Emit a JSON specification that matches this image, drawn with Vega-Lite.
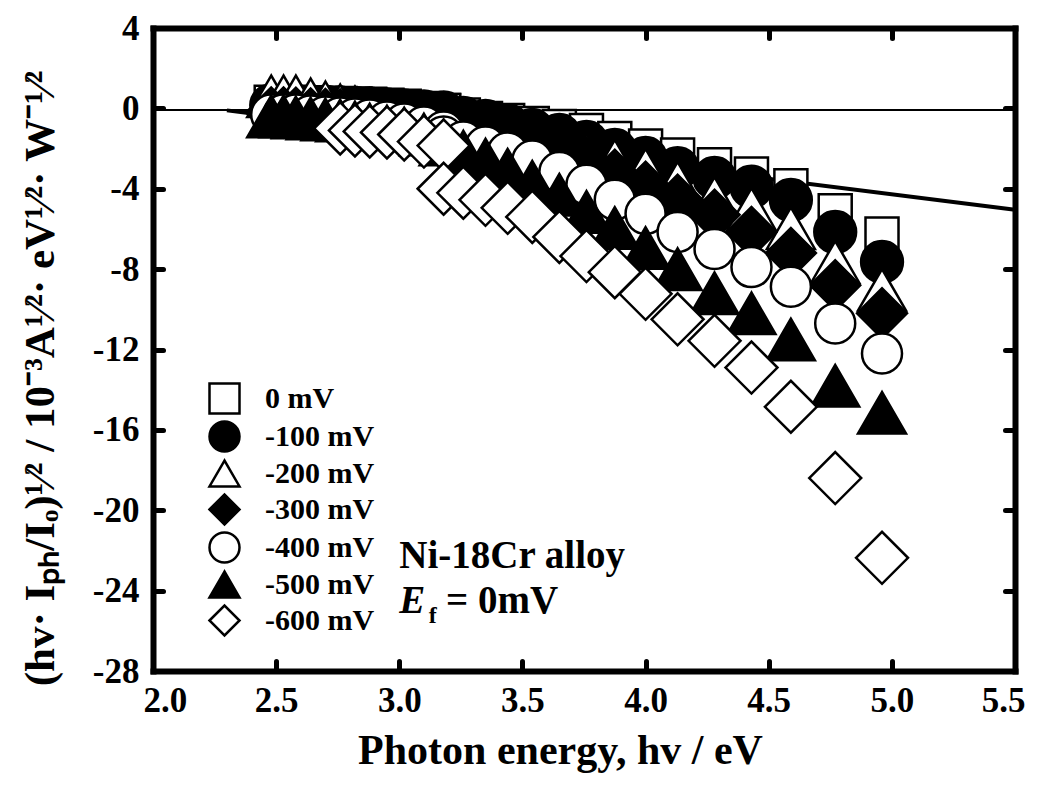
{
  "$schema": "https://vega.github.io/schema/vega-lite/v6.json",
  "width": 862,
  "height": 643,
  "autosize": {"type": "none"},
  "padding": {"left": 153, "top": 28, "right": 31, "bottom": 114},
  "background": "white",
  "config": {
    "view": {"stroke": null},
    "font": "Liberation Serif",
    "axis": {
      "grid": false,
      "domainColor": "black",
      "domainWidth": 6,
      "domainCap": "square",
      "tickColor": "black",
      "tickWidth": 5,
      "tickSize": -10,
      "tickCap": "round",
      "labelFont": "Liberation Serif",
      "labelFontWeight": "bold",
      "labelFontSize": 35,
      "labelColor": "black",
      "titleFont": "Liberation Serif",
      "titleFontWeight": "bold",
      "titleColor": "black"
    }
  },
  "datasets": {
    "pts": [
      {"hv": 2.48, "v": 0.3, "s": "0 mV"}, {"hv": 2.53, "v": 0.3, "s": "0 mV"}, {"hv": 2.58, "v": 0.3, "s": "0 mV"}, {"hv": 2.64, "v": 0.28, "s": "0 mV"}, {"hv": 2.70, "v": 0.26, "s": "0 mV"}, {"hv": 2.76, "v": 0.24, "s": "0 mV"}, {"hv": 2.82, "v": 0.22, "s": "0 mV"}, {"hv": 2.88, "v": 0.2, "s": "0 mV"}, {"hv": 2.95, "v": 0.15, "s": "0 mV"}, {"hv": 3.02, "v": 0.1, "s": "0 mV"}, {"hv": 3.10, "v": 0.0, "s": "0 mV"}, {"hv": 3.18, "v": -0.1, "s": "0 mV"},
      {"hv": 3.18, "v": -0.1, "s": "0 mV"}, {"hv": 3.26, "v": -0.33, "s": "0 mV"}, {"hv": 3.35, "v": -0.5, "s": "0 mV"}, {"hv": 3.44, "v": -0.6, "s": "0 mV"}, {"hv": 3.54, "v": -0.75, "s": "0 mV"}, {"hv": 3.65, "v": -0.9, "s": "0 mV"}, {"hv": 3.76, "v": -1.1, "s": "0 mV"}, {"hv": 3.875, "v": -1.5, "s": "0 mV"}, {"hv": 4.00, "v": -1.87, "s": "0 mV"}, {"hv": 4.13, "v": -2.32, "s": "0 mV"}, {"hv": 4.28, "v": -2.8, "s": "0 mV"}, {"hv": 4.43, "v": -3.27, "s": "0 mV"}, {"hv": 4.59, "v": -3.85, "s": "0 mV"}, {"hv": 4.77, "v": -5.1, "s": "0 mV"}, {"hv": 4.96, "v": -6.25, "s": "0 mV"},

      {"hv": 2.48, "v": 0.15, "s": "-100 mV"}, {"hv": 2.53, "v": 0.15, "s": "-100 mV"}, {"hv": 2.58, "v": 0.12, "s": "-100 mV"}, {"hv": 2.64, "v": 0.1, "s": "-100 mV"}, {"hv": 2.70, "v": 0.08, "s": "-100 mV"}, {"hv": 2.76, "v": 0.05, "s": "-100 mV"}, {"hv": 2.82, "v": 0.02, "s": "-100 mV"}, {"hv": 2.88, "v": 0.0, "s": "-100 mV"}, {"hv": 2.95, "v": -0.05, "s": "-100 mV"}, {"hv": 3.02, "v": -0.1, "s": "-100 mV"}, {"hv": 3.10, "v": -0.15, "s": "-100 mV"}, {"hv": 3.18, "v": -0.2, "s": "-100 mV"},
      {"hv": 3.18, "v": -0.35, "s": "-100 mV"}, {"hv": 3.26, "v": -0.48, "s": "-100 mV"}, {"hv": 3.35, "v": -0.63, "s": "-100 mV"}, {"hv": 3.44, "v": -0.83, "s": "-100 mV"}, {"hv": 3.54, "v": -1.07, "s": "-100 mV"}, {"hv": 3.65, "v": -1.32, "s": "-100 mV"}, {"hv": 3.76, "v": -1.67, "s": "-100 mV"}, {"hv": 3.875, "v": -2.07, "s": "-100 mV"}, {"hv": 4.00, "v": -2.47, "s": "-100 mV"}, {"hv": 4.13, "v": -2.97, "s": "-100 mV"}, {"hv": 4.28, "v": -3.46, "s": "-100 mV"}, {"hv": 4.43, "v": -3.9, "s": "-100 mV"}, {"hv": 4.59, "v": -4.56, "s": "-100 mV"}, {"hv": 4.77, "v": -6.15, "s": "-100 mV"}, {"hv": 4.96, "v": -7.64, "s": "-100 mV"},

      {"hv": 2.48, "v": 0.6, "s": "-200 mV"}, {"hv": 2.53, "v": 0.6, "s": "-200 mV"}, {"hv": 2.58, "v": 0.6, "s": "-200 mV"}, {"hv": 2.64, "v": 0.45, "s": "-200 mV"}, {"hv": 2.70, "v": 0.3, "s": "-200 mV"}, {"hv": 2.76, "v": 0.15, "s": "-200 mV"}, {"hv": 2.82, "v": 0.05, "s": "-200 mV"}, {"hv": 2.88, "v": -0.05, "s": "-200 mV"}, {"hv": 2.95, "v": -0.1, "s": "-200 mV"}, {"hv": 3.02, "v": -0.2, "s": "-200 mV"}, {"hv": 3.10, "v": -0.3, "s": "-200 mV"}, {"hv": 3.18, "v": -0.4, "s": "-200 mV"},
      {"hv": 3.18, "v": -0.75, "s": "-200 mV"}, {"hv": 3.26, "v": -0.9, "s": "-200 mV"}, {"hv": 3.35, "v": -1.05, "s": "-200 mV"}, {"hv": 3.44, "v": -1.2, "s": "-200 mV"}, {"hv": 3.54, "v": -1.5, "s": "-200 mV"}, {"hv": 3.65, "v": -1.9, "s": "-200 mV"}, {"hv": 3.76, "v": -2.3, "s": "-200 mV"}, {"hv": 3.875, "v": -2.6, "s": "-200 mV"}, {"hv": 4.00, "v": -3.05, "s": "-200 mV"}, {"hv": 4.13, "v": -3.7, "s": "-200 mV"}, {"hv": 4.28, "v": -4.45, "s": "-200 mV"}, {"hv": 4.43, "v": -5.0, "s": "-200 mV"}, {"hv": 4.59, "v": -5.96, "s": "-200 mV"}, {"hv": 4.77, "v": -7.64, "s": "-200 mV"}, {"hv": 4.96, "v": -9.03, "s": "-200 mV"},

      {"hv": 2.48, "v": -0.2, "s": "-300 mV"}, {"hv": 2.53, "v": -0.2, "s": "-300 mV"}, {"hv": 2.58, "v": -0.22, "s": "-300 mV"}, {"hv": 2.64, "v": -0.25, "s": "-300 mV"}, {"hv": 2.70, "v": -0.28, "s": "-300 mV"}, {"hv": 2.76, "v": -0.3, "s": "-300 mV"}, {"hv": 2.82, "v": -0.33, "s": "-300 mV"}, {"hv": 2.88, "v": -0.36, "s": "-300 mV"}, {"hv": 2.95, "v": -0.4, "s": "-300 mV"}, {"hv": 3.02, "v": -0.45, "s": "-300 mV"}, {"hv": 3.10, "v": -0.5, "s": "-300 mV"}, {"hv": 3.18, "v": -0.55, "s": "-300 mV"},
      {"hv": 3.18, "v": -0.68, "s": "-300 mV"}, {"hv": 3.26, "v": -0.92, "s": "-300 mV"}, {"hv": 3.35, "v": -1.17, "s": "-300 mV"}, {"hv": 3.44, "v": -1.47, "s": "-300 mV"}, {"hv": 3.54, "v": -1.8, "s": "-300 mV"}, {"hv": 3.65, "v": -2.2, "s": "-300 mV"}, {"hv": 3.76, "v": -2.7, "s": "-300 mV"}, {"hv": 3.875, "v": -3.3, "s": "-300 mV"}, {"hv": 4.00, "v": -3.9, "s": "-300 mV"}, {"hv": 4.13, "v": -4.55, "s": "-300 mV"}, {"hv": 4.28, "v": -5.3, "s": "-300 mV"}, {"hv": 4.43, "v": -6.15, "s": "-300 mV"}, {"hv": 4.59, "v": -7.2, "s": "-300 mV"}, {"hv": 4.77, "v": -8.8, "s": "-300 mV"}, {"hv": 4.96, "v": -10.2, "s": "-300 mV"},

      {"hv": 2.48, "v": -0.3, "s": "-400 mV"}, {"hv": 2.53, "v": -0.3, "s": "-400 mV"}, {"hv": 2.58, "v": -0.3, "s": "-400 mV"}, {"hv": 2.64, "v": -0.35, "s": "-400 mV"}, {"hv": 2.70, "v": -0.4, "s": "-400 mV"}, {"hv": 2.76, "v": -0.45, "s": "-400 mV"}, {"hv": 2.82, "v": -0.5, "s": "-400 mV"}, {"hv": 2.88, "v": -0.55, "s": "-400 mV"}, {"hv": 2.95, "v": -0.65, "s": "-400 mV"}, {"hv": 3.02, "v": -0.75, "s": "-400 mV"}, {"hv": 3.10, "v": -0.9, "s": "-400 mV"}, {"hv": 3.18, "v": -1.15, "s": "-400 mV"},
      {"hv": 3.18, "v": -1.4, "s": "-400 mV"}, {"hv": 3.26, "v": -1.65, "s": "-400 mV"}, {"hv": 3.35, "v": -1.9, "s": "-400 mV"}, {"hv": 3.44, "v": -2.2, "s": "-400 mV"}, {"hv": 3.54, "v": -2.6, "s": "-400 mV"}, {"hv": 3.65, "v": -3.17, "s": "-400 mV"}, {"hv": 3.76, "v": -3.8, "s": "-400 mV"}, {"hv": 3.875, "v": -4.55, "s": "-400 mV"}, {"hv": 4.00, "v": -5.25, "s": "-400 mV"}, {"hv": 4.13, "v": -6.15, "s": "-400 mV"}, {"hv": 4.28, "v": -7.0, "s": "-400 mV"}, {"hv": 4.43, "v": -7.9, "s": "-400 mV"}, {"hv": 4.59, "v": -8.88, "s": "-400 mV"}, {"hv": 4.77, "v": -10.7, "s": "-400 mV"}, {"hv": 4.96, "v": -12.2, "s": "-400 mV"},

      {"hv": 2.48, "v": -0.4, "s": "-500 mV"}, {"hv": 2.53, "v": -0.4, "s": "-500 mV"}, {"hv": 2.58, "v": -0.45, "s": "-500 mV"}, {"hv": 2.64, "v": -0.5, "s": "-500 mV"}, {"hv": 2.70, "v": -0.55, "s": "-500 mV"}, {"hv": 2.76, "v": -0.6, "s": "-500 mV"}, {"hv": 2.82, "v": -0.7, "s": "-500 mV"}, {"hv": 2.88, "v": -0.8, "s": "-500 mV"}, {"hv": 2.95, "v": -0.9, "s": "-500 mV"}, {"hv": 3.02, "v": -1.0, "s": "-500 mV"}, {"hv": 3.10, "v": -1.3, "s": "-500 mV"}, {"hv": 3.18, "v": -1.6, "s": "-500 mV"},
      {"hv": 3.18, "v": -1.8, "s": "-500 mV"}, {"hv": 3.26, "v": -2.15, "s": "-500 mV"}, {"hv": 3.35, "v": -2.55, "s": "-500 mV"}, {"hv": 3.44, "v": -3.05, "s": "-500 mV"}, {"hv": 3.54, "v": -3.65, "s": "-500 mV"}, {"hv": 3.65, "v": -4.3, "s": "-500 mV"}, {"hv": 3.76, "v": -5.15, "s": "-500 mV"}, {"hv": 3.875, "v": -5.95, "s": "-500 mV"}, {"hv": 4.00, "v": -6.95, "s": "-500 mV"}, {"hv": 4.13, "v": -8.0, "s": "-500 mV"}, {"hv": 4.28, "v": -9.2, "s": "-500 mV"}, {"hv": 4.43, "v": -10.2, "s": "-500 mV"}, {"hv": 4.59, "v": -11.5, "s": "-500 mV"}, {"hv": 4.77, "v": -13.8, "s": "-500 mV"}, {"hv": 4.96, "v": -15.15, "s": "-500 mV"},

      {"hv": 2.76, "v": -1.0, "s": "-600 mV"}, {"hv": 2.82, "v": -1.1, "s": "-600 mV"}, {"hv": 2.88, "v": -1.15, "s": "-600 mV"}, {"hv": 2.95, "v": -1.2, "s": "-600 mV"}, {"hv": 3.02, "v": -1.3, "s": "-600 mV"}, {"hv": 3.10, "v": -1.65, "s": "-600 mV"}, {"hv": 3.18, "v": -1.85, "s": "-600 mV"},
      {"hv": 3.18, "v": -4.0, "s": "-600 mV"}, {"hv": 3.26, "v": -4.2, "s": "-600 mV"}, {"hv": 3.35, "v": -4.55, "s": "-600 mV"}, {"hv": 3.44, "v": -4.95, "s": "-600 mV"}, {"hv": 3.54, "v": -5.4, "s": "-600 mV"}, {"hv": 3.65, "v": -6.4, "s": "-600 mV"}, {"hv": 3.76, "v": -7.35, "s": "-600 mV"}, {"hv": 3.875, "v": -8.15, "s": "-600 mV"}, {"hv": 4.00, "v": -9.23, "s": "-600 mV"}, {"hv": 4.13, "v": -10.5, "s": "-600 mV"}, {"hv": 4.28, "v": -11.57, "s": "-600 mV"}, {"hv": 4.43, "v": -12.9, "s": "-600 mV"}, {"hv": 4.59, "v": -14.85, "s": "-600 mV"}, {"hv": 4.77, "v": -18.4, "s": "-600 mV"}, {"hv": 4.96, "v": -22.37, "s": "-600 mV"}
    ],
    "base": [{"hv": 2.0, "v": -0.08}, {"hv": 5.5, "v": -0.08}],
    "fit": [{"hv": 2.3, "v": -0.1}, {"hv": 5.5, "v": -5.05}]
  },
  "resolve": {"axis": {"x": "independent", "y": "independent"}},
  "layer": [
    {
      "data": {"name": "base"},
      "mark": {"type": "line", "color": "black", "strokeWidth": 2},
      "encoding": {
        "x": {"field": "hv", "type": "quantitative", "scale": {"domain": [2, 5.5], "nice": false, "zero": false},
              "axis": {"orient": "top", "labels": false, "title": null, "values": [2.0, 2.5, 3.0, 3.5, 4.0, 4.5, 5.0, 5.5]}},
        "y": {"field": "v", "type": "quantitative", "scale": {"domain": [-28, 4], "nice": false, "zero": false},
              "axis": {"orient": "right", "labels": false, "title": null, "values": [4, 0, -4, -8, -12, -16, -20, -24, -28]}}
      }
    },
    {
      "data": {"name": "fit"},
      "mark": {"type": "line", "color": "black", "strokeWidth": 4},
      "encoding": {
        "x": {"field": "hv", "type": "quantitative", "axis": null},
        "y": {"field": "v", "type": "quantitative", "axis": null}
      }
    },
    {
      "data": {"name": "pts"},
      "mark": {"type": "point", "filled": true, "strokeWidth": 2.5, "opacity": 1},
      "encoding": {
        "x": {"field": "hv", "type": "quantitative",
              "axis": {"orient": "bottom", "values": [2.0, 2.5, 3.0, 3.5, 4.0, 4.5, 5.0, 5.5], "format": ".1f", "labelPadding": 22,
                       "labelFlush": true, "labelFlushOffset": 10,
                       "title": "Photon energy, hv / eV", "titleFontSize": 42, "titlePadding": 12, "titleX": 407}},
        "y": {"field": "v", "type": "quantitative",
              "axis": {"orient": "left", "values": [4, 0, -4, -8, -12, -16, -20, -24, -28], "labelPadding": 24,
                       "labelExpr": "datum.value < 0 ? '-' + format(-datum.value, 'd') : format(datum.value, 'd')",
                       "title": "(hv· Iₚₕ/Iₒ)¹⁄² / 10⁻³A¹⁄²· eV¹⁄²· W⁻¹⁄²", "titleFontSize": 43,
                       "titleX": -113, "titleY": 350, "titleAngle": -90, "titleAlign": "center", "titleBaseline": "middle"}},
        "shape": {"field": "s", "type": "nominal",
                  "scale": {"domain": ["0 mV", "-100 mV", "-200 mV", "-300 mV", "-400 mV", "-500 mV", "-600 mV"],
                            "range": ["square", "circle", "triangle-up", "diamond", "circle", "triangle-up", "diamond"]},
                  "legend": {"orient": "none", "legendX": 55, "legendY": 354, "title": null, "padding": 0,
                             "labelFont": "Liberation Serif", "labelFontWeight": "bold", "labelFontSize": 30, "labelColor": "black",
                             "symbolSize": 900, "symbolStrokeWidth": 2.5, "rowPadding": -3, "labelOffset": 24}},
        "fill": {"field": "s", "type": "nominal",
                 "scale": {"domain": ["0 mV", "-100 mV", "-200 mV", "-300 mV", "-400 mV", "-500 mV", "-600 mV"],
                           "range": ["white", "black", "white", "black", "white", "black", "white"]}},
        "stroke": {"field": "s", "type": "nominal",
                   "scale": {"domain": ["0 mV", "-100 mV", "-200 mV", "-300 mV", "-400 mV", "-500 mV", "-600 mV"],
                             "range": ["black", "black", "black", "black", "black", "black", "black"]}},
        "size": {"field": "s", "type": "nominal", "legend": null,
                 "scale": {"type": "ordinal",
                           "domain": ["-600 mV", "-500 mV", "-400 mV", "-300 mV", "-200 mV", "-100 mV", "0 mV"],
                           "range": [2700, 2304, 1600, 2500, 2304, 1750, 1089]}}
      }
    },
    {
      "data": {"values": [{"hv": 3.0, "v": -22.87, "t": "Ni-18Cr alloy"}]},
      "mark": {"type": "text", "align": "left", "baseline": "alphabetic", "font": "Liberation Serif", "fontWeight": "bold", "fontSize": 39, "color": "black"},
      "encoding": {
        "x": {"field": "hv", "type": "quantitative", "axis": null},
        "y": {"field": "v", "type": "quantitative", "axis": null},
        "text": {"field": "t"}
      }
    },
    {
      "data": {"values": [{"hv": 3.0, "v": -25.1, "t": "E"}]},
      "mark": {"type": "text", "align": "left", "baseline": "alphabetic", "font": "Liberation Serif", "fontWeight": "bold", "fontStyle": "italic", "fontSize": 39, "color": "black"},
      "encoding": {
        "x": {"field": "hv", "type": "quantitative", "axis": null},
        "y": {"field": "v", "type": "quantitative", "axis": null},
        "text": {"field": "t"}
      }
    },
    {
      "data": {"values": [{"hv": 3.12, "v": -25.6, "t": "f"}]},
      "mark": {"type": "text", "align": "left", "baseline": "alphabetic", "font": "Liberation Serif", "fontWeight": "bold", "fontSize": 24, "color": "black"},
      "encoding": {
        "x": {"field": "hv", "type": "quantitative", "axis": null},
        "y": {"field": "v", "type": "quantitative", "axis": null},
        "text": {"field": "t"}
      }
    },
    {
      "data": {"values": [{"hv": 3.19, "v": -25.1, "t": "= 0mV"}]},
      "mark": {"type": "text", "align": "left", "baseline": "alphabetic", "font": "Liberation Serif", "fontWeight": "bold", "fontSize": 39, "color": "black"},
      "encoding": {
        "x": {"field": "hv", "type": "quantitative", "axis": null},
        "y": {"field": "v", "type": "quantitative", "axis": null},
        "text": {"field": "t"}
      }
    }
  ]
}
